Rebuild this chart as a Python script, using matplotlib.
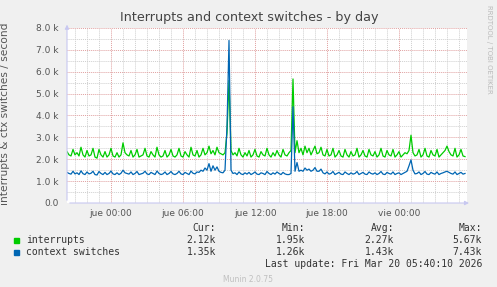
import matplotlib.pyplot as plt
import numpy as np

# values in thousands, one sample every 10 minutes, starting Wed 20:20
interrupts = [
    2.35, 2.2, 2.15, 2.45, 2.2, 2.3, 2.15, 2.55, 2.2, 2.1,
    2.4, 2.15, 2.2, 2.5, 2.1, 2.05, 2.45, 2.2, 2.1, 2.35,
    2.1, 2.2, 2.5, 2.15, 2.1, 2.3, 2.1, 2.2, 2.75, 2.3,
    2.2, 2.15, 2.4, 2.1, 2.2, 2.45, 2.1, 2.15, 2.2, 2.5,
    2.15, 2.1, 2.35, 2.2, 2.1, 2.55, 2.2, 2.1, 2.15, 2.4,
    2.1, 2.2, 2.45, 2.15, 2.1, 2.2, 2.5, 2.15, 2.1, 2.35,
    2.2, 2.1, 2.55, 2.2, 2.15, 2.4, 2.1, 2.2, 2.5, 2.2,
    2.3, 2.6, 2.25, 2.4, 2.2, 2.55, 2.3, 2.25, 2.2, 2.3,
    3.2, 5.6, 2.4, 2.2, 2.3, 2.15, 2.5, 2.2, 2.1, 2.3,
    2.15, 2.4, 2.1, 2.2, 2.45, 2.15, 2.1, 2.35, 2.2, 2.15,
    2.5, 2.2, 2.1, 2.3, 2.15, 2.4, 2.2, 2.1, 2.45, 2.2,
    2.15, 2.3, 2.4, 5.67, 2.3, 2.85, 2.3, 2.5, 2.2, 2.6,
    2.3, 2.5, 2.2, 2.4, 2.6, 2.25, 2.3, 2.55, 2.2, 2.15,
    2.45, 2.15, 2.2, 2.5, 2.1, 2.2, 2.4, 2.15, 2.1, 2.45,
    2.2, 2.1, 2.35, 2.15, 2.2, 2.5, 2.1, 2.2, 2.4, 2.15,
    2.1, 2.45, 2.2, 2.15, 2.35, 2.1, 2.2, 2.5, 2.15, 2.1,
    2.4, 2.2, 2.15, 2.45, 2.1, 2.2, 2.35, 2.1, 2.2, 2.3,
    2.25, 2.4, 3.1, 2.3, 2.15, 2.2, 2.45, 2.1, 2.2, 2.5,
    2.15, 2.1, 2.4, 2.2, 2.15, 2.45, 2.1, 2.2, 2.3, 2.4,
    2.6, 2.35, 2.2, 2.15, 2.5, 2.1, 2.2, 2.45, 2.15, 2.12,
]
ctx_switches = [
    1.4, 1.35, 1.32, 1.45, 1.33, 1.38, 1.3, 1.47, 1.34, 1.3,
    1.42, 1.33, 1.36, 1.45, 1.3, 1.28, 1.44, 1.35, 1.3, 1.4,
    1.3, 1.35, 1.46, 1.33, 1.3, 1.38, 1.3, 1.36, 1.5, 1.38,
    1.35, 1.32, 1.42, 1.3, 1.35, 1.44, 1.3, 1.33, 1.36, 1.45,
    1.33, 1.3, 1.4, 1.35, 1.3, 1.46, 1.35, 1.3, 1.33, 1.42,
    1.3, 1.35, 1.44, 1.33, 1.3, 1.35, 1.45, 1.33, 1.3, 1.4,
    1.35, 1.3, 1.46, 1.36, 1.33, 1.42, 1.4, 1.5, 1.45, 1.6,
    1.5, 1.8, 1.45, 1.7, 1.5, 1.65, 1.45, 1.4, 1.38, 1.5,
    3.5, 7.43, 1.5, 1.35, 1.38, 1.3, 1.42, 1.33, 1.3, 1.38,
    1.32, 1.4, 1.3, 1.35, 1.42, 1.32, 1.3, 1.38, 1.35, 1.3,
    1.44, 1.35, 1.3, 1.38, 1.32, 1.42, 1.35, 1.3, 1.4, 1.33,
    1.3, 1.3, 1.35, 4.4, 1.45, 1.85, 1.45, 1.5, 1.45, 1.6,
    1.5, 1.55, 1.45, 1.5, 1.62, 1.45, 1.45, 1.55, 1.38, 1.33,
    1.42, 1.32, 1.35, 1.44, 1.3, 1.35, 1.4, 1.32, 1.3, 1.42,
    1.35, 1.3, 1.38, 1.32, 1.35, 1.44, 1.3, 1.35, 1.4, 1.32,
    1.3, 1.42, 1.35, 1.32, 1.38, 1.3, 1.35, 1.44, 1.32, 1.3,
    1.4, 1.35, 1.32, 1.42, 1.3, 1.35, 1.38, 1.3, 1.35, 1.4,
    1.45, 1.7, 1.97, 1.5, 1.33, 1.35, 1.42, 1.3, 1.35, 1.44,
    1.32, 1.3, 1.4, 1.35, 1.32, 1.42, 1.3, 1.35, 1.38, 1.42,
    1.45, 1.4, 1.35, 1.32, 1.42, 1.3, 1.35, 1.4, 1.32, 1.35,
]
tick_hours = [0, 6, 12, 18, 24]
tick_labels = ['jue 00:00', 'jue 06:00', 'jue 12:00', 'jue 18:00', 'vie 00:00']
series = ['interrupts', 'context switches']
cur = ['2.12k', '1.35k']
mins = ['1.95k', '1.26k']
avgs = ['2.27k', '1.43k']
maxs = ['5.67k', '7.43k']

# hours relative to Thu 00:00
t_start = -(3 + 40 / 60)
t = t_start + np.arange(len(interrupts)) / 6.0

W, H = 497, 287
fig = plt.figure(figsize=(W / 100, H / 100), dpi=100, facecolor='#F0F0F0')
ax = fig.add_axes([67 / W, 1 - 203 / H, 400 / W, 175 / H])
ax.set_facecolor('white')
ax.set_xlim(t_start, t_start + 400 / 12)
ax.set_ylim(0, 8000)

dots = (0, (1, 1))
for h in np.arange(-3, 30):
    major = h % 6 == 0
    ax.axvline(h, color='#E0A0A0' if major else '#CFCFCF', lw=0.7, ls=dots, zorder=1)
for v in np.arange(500, 8001, 500):
    major = v % 1000 == 0
    ax.axhline(v, color='#E0A0A0' if major else '#CFCFCF', lw=0.7, ls=dots, zorder=1)

ax.plot(t, np.array(interrupts) * 1000, color='#00CC00', lw=0.9, zorder=3)
ax.plot(t, np.array(ctx_switches) * 1000, color='#0066B3', lw=0.9, zorder=4)

for s in ax.spines.values():
    s.set_visible(False)
ax.annotate('', xy=(1.012, 0), xytext=(0, 0), xycoords='axes fraction',
            arrowprops=dict(arrowstyle='-|>', color='#C8C8F0', lw=0.8,
                            mutation_scale=6), zorder=5)
ax.annotate('', xy=(0, 1.035), xytext=(0, 0), xycoords='axes fraction',
            arrowprops=dict(arrowstyle='-|>', color='#C8C8F0', lw=0.8,
                            mutation_scale=6), zorder=5)

yt = np.arange(0, 8001, 1000)
ax.set_yticks(yt)
ax.set_yticklabels(['0.0'] + ['%.1f k' % (v / 1000) for v in yt[1:]])
ax.set_xticks(tick_hours)
ax.set_xticklabels(tick_labels)
ax.tick_params(length=0, labelsize=6.5, colors='#555555')
ax.tick_params(axis='y', pad=6)
ax.tick_params(axis='x', pad=4)
ax.set_ylabel('interrupts & ctx switches / second', fontsize=7.7, color='#555555')
ax.yaxis.set_label_coords(-(67 - 10) / 400, 0.51)

fig.text(249 / W, 1 - 18 / H, 'Interrupts and context switches - by day',
         ha='center', va='center', fontsize=9.2, color='#444444')
fig.text(489 / W, 1 - 5 / H, 'RRDTOOL / TOBI OETIKER', rotation=270,
         ha='center', va='top', fontsize=5, color='#BBBBBB')

mono = dict(family='DejaVu Sans Mono', fontsize=7, color='#333333', va='center')
cols = [216, 305, 394, 482]
for x, head in zip(cols, ['Cur:', 'Min:', 'Avg:', 'Max:']):
    fig.text(x / W, 1 - 228 / H, head, ha='right', **mono)
colors = ['#00CC00', '#0066B3']
for k, name in enumerate(series):
    y = 240 + 12 * k
    fig.patches.append(plt.Rectangle((14 / W, 1 - (y + 2.5) / H), 5 / W, 5 / H,
                                     transform=fig.transFigure, color=colors[k]))
    fig.text(26 / W, 1 - y / H, name, ha='left', **mono)
    for x, val in zip(cols, [cur[k], mins[k], avgs[k], maxs[k]]):
        fig.text(x / W, 1 - y / H, val, ha='right', **mono)
fig.text(482 / W, 1 - 264 / H, 'Last update: Fri Mar 20 05:40:10 2026', ha='right', **mono)
fig.text(248 / W, 1 - 280 / H, 'Munin 2.0.75', ha='center', va='center',
         fontsize=5.5, color='#C0C0C0')

fig.savefig('out.png', dpi=100, facecolor=fig.get_facecolor())
